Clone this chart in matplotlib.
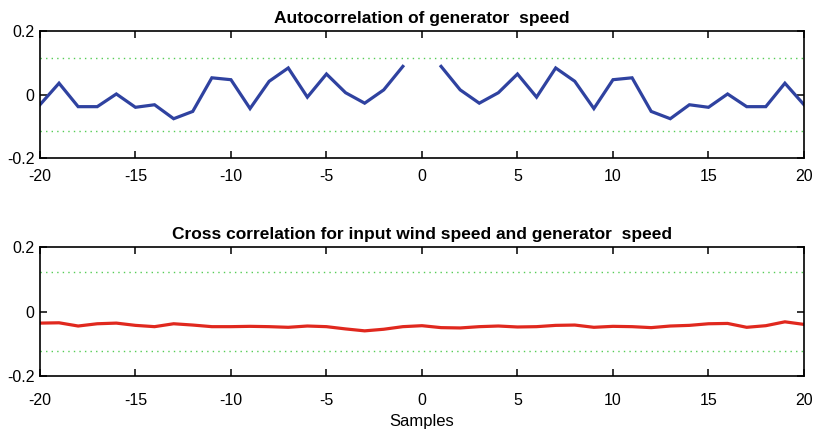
import numpy as np
import matplotlib
matplotlib.use('Agg')
import matplotlib.pyplot as plt

plt.rcParams['font.family'] = ['Liberation Sans', 'DejaVu Sans']
plt.rcParams['axes.unicode_minus'] = False

# --- data ---
lags = np.arange(-20, 21)

acf_right = [0.089, 0.015, -0.027, 0.006, 0.065, -0.008, 0.084, 0.042, -0.044, 0.047,
             0.053, -0.053, -0.076, -0.032, -0.040, 0.002, -0.038, -0.038, 0.036, -0.032]
acf = list(reversed(acf_right)) + [np.nan] + acf_right   # lag 0 left out

xcorr = [-0.036, -0.035, -0.045, -0.038, -0.036, -0.043, -0.047, -0.038, -0.042, -0.047,
         -0.047, -0.046, -0.047, -0.049, -0.045, -0.047, -0.054, -0.060, -0.055, -0.047,
         -0.044,
         -0.050, -0.051, -0.047, -0.045, -0.048, -0.047, -0.043, -0.042, -0.049, -0.046,
         -0.047, -0.050, -0.045, -0.043, -0.038, -0.037, -0.049, -0.044, -0.032, -0.040]

acf_bound = 0.1155
xcorr_bound = 0.1216

titles = ['Autocorrelation of generator  speed',
          'Cross correlation for input wind speed and generator  speed']

fig = plt.figure(figsize=(8.15, 4.33), dpi=100)
ax1 = fig.add_axes([0.049, 0.635, 0.9375, 0.293])
ax2 = fig.add_axes([0.049, 0.1316, 0.9375, 0.298])

for ax, y, bnd, col, ttl, xpad in [(ax1, acf, acf_bound, '#2f42a0', titles[0], 8),
                                   (ax2, xcorr, xcorr_bound, '#e0281e', titles[1], 12.5)]:
    ax.plot(lags, y, color=col, lw=2.3, solid_joinstyle='miter')
    ax.axhline(bnd, color='#55cc55', lw=1.0, ls=(0, (1, 3)))
    ax.axhline(-bnd, color='#55cc55', lw=1.0, ls=(0, (1, 3)))
    ax.set_xlim(-20, 20)
    ax.set_ylim(-0.2, 0.2)
    ax.set_xticks(np.arange(-20, 21, 5))
    ax.set_yticks([-0.2, 0, 0.2])
    ax.set_yticklabels(['-0.2', '0', '0.2'])
    ax.tick_params(direction='in', top=True, right=True, length=5, width=1.1,
                   labelsize=11.5, pad=4)
    ax.tick_params(axis='x', pad=xpad)
    for s in ax.spines.values():
        s.set_linewidth(1.2)
    ax.set_title(ttl, fontsize=12.5, fontweight='bold', pad=6)

ax2.set_xlabel('Samples', fontsize=12, labelpad=4)

fig.savefig('out.png', dpi=100)
